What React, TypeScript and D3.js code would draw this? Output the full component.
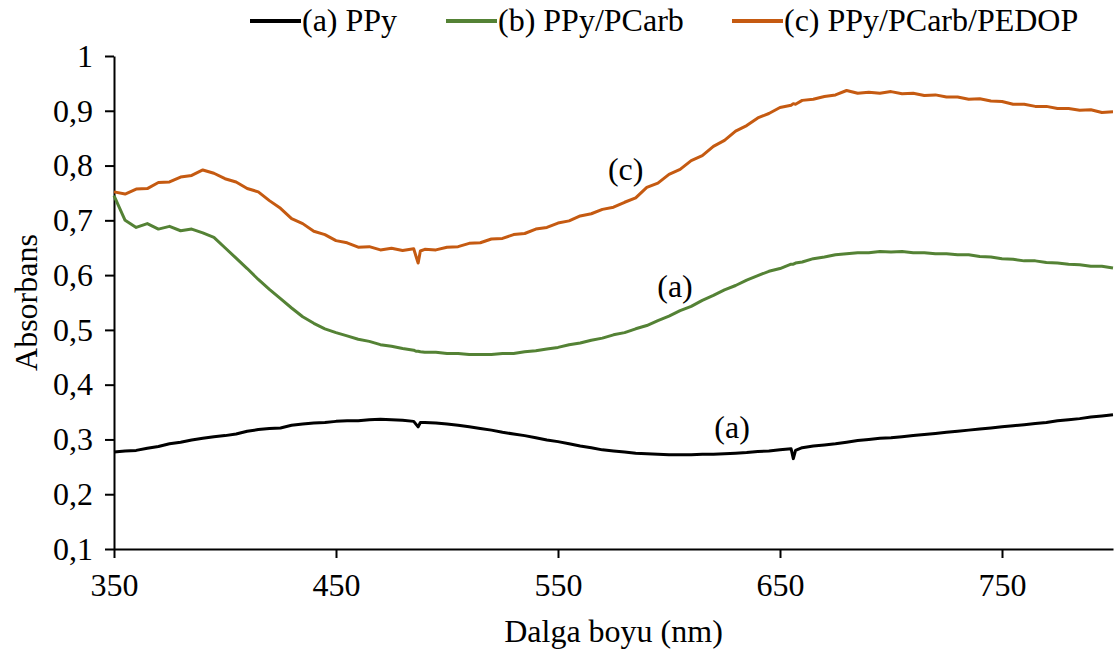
import { useRef, useEffect } from "react";
import * as d3 from "d3";

// wavelengths (nm) shared by the three spectra
const wavelengths = [
  350, 355, 360, 365, 370, 375, 380, 385, 390, 395, 400, 405, 410, 415, 420, 425, 430, 435, 440, 445,
  450, 455, 460, 465, 470, 475, 480, 485, 486, 487, 488,
  490, 495, 500, 505, 510, 515, 520, 525, 530, 535, 540, 545, 550, 555, 560, 565, 570, 575, 580, 585,
  590, 595, 600, 605, 610, 615, 620, 625, 630, 635, 640, 645, 650, 655, 656, 657,
  660, 665, 670, 675, 680, 685, 690, 695, 700, 705, 710, 715, 720, 725, 730, 735, 740, 745, 750, 755,
  760, 765, 770, 775, 780, 785, 790, 795, 800,
];

const ppy = [
  0.277, 0.279, 0.28, 0.284, 0.287, 0.292, 0.295, 0.299, 0.302, 0.305, 0.307, 0.31, 0.315, 0.318, 0.32, 0.321, 0.326, 0.328, 0.33, 0.331,
  0.333, 0.334, 0.334, 0.336, 0.337, 0.336, 0.335, 0.333, 0.328, 0.323, 0.331,
  0.331, 0.33, 0.328, 0.326, 0.323, 0.32, 0.317, 0.313, 0.31, 0.307, 0.303, 0.299, 0.296, 0.292, 0.288, 0.285, 0.281, 0.279, 0.277, 0.275,
  0.274, 0.273, 0.272, 0.272, 0.272, 0.273, 0.273, 0.274, 0.275, 0.276, 0.278, 0.279, 0.281, 0.283, 0.265, 0.28,
  0.285, 0.288, 0.29, 0.292, 0.295, 0.298, 0.3, 0.302, 0.303, 0.305, 0.307, 0.309, 0.311, 0.313, 0.315, 0.317, 0.319, 0.321, 0.323, 0.325,
  0.327, 0.329, 0.331, 0.334, 0.336, 0.338, 0.341, 0.343, 0.345,
];

const ppyPcarb = [
  0.745, 0.7, 0.687, 0.694, 0.684, 0.689, 0.681, 0.684, 0.677, 0.669, 0.65, 0.631, 0.612, 0.592, 0.574, 0.557, 0.54, 0.524, 0.512, 0.502,
  0.495, 0.489, 0.483, 0.479, 0.473, 0.47, 0.466, 0.463, 0.461, 0.461, 0.46,
  0.459, 0.459, 0.457, 0.457, 0.455, 0.455, 0.455, 0.457, 0.457, 0.46, 0.462, 0.465, 0.468, 0.473, 0.476, 0.481, 0.485, 0.491, 0.495, 0.502,
  0.508, 0.517, 0.525, 0.535, 0.543, 0.554, 0.563, 0.573, 0.581, 0.591, 0.599, 0.607, 0.612, 0.62, 0.62, 0.622,
  0.624, 0.63, 0.633, 0.637, 0.639, 0.641, 0.641, 0.643, 0.642, 0.643, 0.641, 0.641, 0.639, 0.639, 0.637, 0.637, 0.634, 0.633, 0.63, 0.629,
  0.626, 0.626, 0.623, 0.622, 0.62, 0.619, 0.616, 0.616, 0.613,
];

const ppyPcarbPedop = [
  0.752, 0.748, 0.757, 0.758, 0.769, 0.77, 0.779, 0.782, 0.792, 0.786, 0.776, 0.77, 0.758, 0.752, 0.736, 0.722, 0.703, 0.694, 0.68, 0.674,
  0.663, 0.659, 0.651, 0.652, 0.646, 0.649, 0.645, 0.648, 0.635, 0.622, 0.644,
  0.647, 0.646, 0.651, 0.652, 0.658, 0.659, 0.666, 0.667, 0.674, 0.676, 0.684, 0.687, 0.695, 0.699, 0.708, 0.712, 0.72, 0.724, 0.733, 0.741,
  0.76, 0.768, 0.784, 0.793, 0.809, 0.818, 0.835, 0.846, 0.863, 0.873, 0.887, 0.895, 0.906, 0.91, 0.913, 0.912,
  0.919, 0.921, 0.926, 0.929, 0.937, 0.932, 0.934, 0.932, 0.935, 0.931, 0.932, 0.928, 0.929, 0.925, 0.925, 0.921, 0.922, 0.918, 0.917, 0.912,
  0.912, 0.908, 0.908, 0.904, 0.904, 0.901, 0.902, 0.897, 0.898,
];

const seriesNames = ["(a) PPy", "(b) PPy/PCarb", "(c) PPy/PCarb/PEDOP"];
const seriesValues = [ppy, ppyPcarb, ppyPcarbPedop];
const seriesColors = ["#000000", "#548235", "#C55A11"];

const xTicks = [350, 450, 550, 650, 750];
const yTicks = [0.1, 0.2, 0.3, 0.4, 0.5, 0.6, 0.7, 0.8, 0.9, 1];

// curve labels: [wavelength, absorbance, text]
const curveLabels: [number, number, string][] = [
  [580.5, 0.774, "(c)"],
  [602.7, 0.56, "(a)"],
  [628.4, 0.303, "(a)"],
];

const FONT = "'Liberation Serif', 'Times New Roman', serif";
const FS = "32px";

export default function App() {
  const ref = useRef<HTMLDivElement | null>(null);

  useEffect(() => {
    if (!ref.current) return;
    const container = ref.current;
    container.innerHTML = "";

    const W = 1118, H = 654;
    const margin = { top: 56, right: 5, bottom: 105, left: 114 };
    const plotW = W - margin.left - margin.right;
    const plotH = H - margin.top - margin.bottom;

    const svg = d3.select(container).append("svg")
      .attr("width", W).attr("height", H)
      .style("display", "block")
      .style("font-family", FONT);

    const g = svg.append("g").attr("transform", `translate(${margin.left},${margin.top})`);

    const x = d3.scaleLinear().domain([350, 800]).range([0, plotW]);
    const y = d3.scaleLinear().domain([0.1, 1]).range([plotH, 0]);

    // axes
    const xAxis = d3.axisBottom(x).tickValues(xTicks).tickSize(9).tickPadding(15).tickSizeOuter(0);
    const yAxis = d3.axisLeft(y).tickValues(yTicks).tickSize(9).tickPadding(12).tickSizeOuter(0)
      .tickFormat(d => String(+d).replace(".", ","));

    const gx = g.append("g").attr("transform", `translate(0,${plotH})`).call(xAxis);
    const gy = g.append("g").call(yAxis);
    [gx, gy].forEach(a => {
      a.select(".domain").attr("stroke", "#000").attr("stroke-width", 2);
      a.selectAll(".tick line").attr("stroke", "#000").attr("stroke-width", 2);
      a.selectAll(".tick text").attr("fill", "#000").style("font-size", FS).style("font-family", FONT);
    });

    // lines
    seriesValues.forEach((vals, i) => {
      const pts = wavelengths.map((w, j) => [w, vals[j]] as [number, number]);
      const line = d3.line<[number, number]>().x(d => x(d[0])).y(d => y(d[1]));
      g.append("path")
        .datum(pts)
        .attr("fill", "none")
        .attr("stroke", seriesColors[i])
        .attr("stroke-width", 3)
        .attr("stroke-linejoin", "round")
        .attr("d", line);
    });

    // curve labels
    curveLabels.forEach(([w, v, t]) => {
      g.append("text").attr("x", x(w)).attr("y", y(v))
        .attr("text-anchor", "middle").attr("font-size", FS).attr("fill", "#000").text(t);
    });

    // axis titles
    svg.append("text").attr("x", margin.left + plotW / 2).attr("y", 642)
      .attr("text-anchor", "middle").attr("font-size", FS).text("Dalga boyu (nm)");
    svg.append("text").attr("transform", `translate(37,${margin.top + plotH / 2}) rotate(-90)`)
      .attr("text-anchor", "middle").attr("font-size", FS).text("Absorbans");

    // legend
    const legendX = [250, 446, 732];
    const legend = svg.append("g").attr("transform", "translate(0,21)");
    seriesNames.forEach((name, i) => {
      legend.append("line").attr("x1", legendX[i]).attr("x2", legendX[i] + 51)
        .attr("y1", 0).attr("y2", 0).attr("stroke", seriesColors[i]).attr("stroke-width", 4);
      legend.append("text").attr("x", legendX[i] + 52).attr("y", 10)
        .attr("font-size", FS).attr("fill", "#000").text(name);
    });

    return () => { svg.remove(); };
  }, []);

  return <div ref={ref} style={{ position: "absolute", left: 0, top: 0, width: 1118, height: 654 }} />;
}
